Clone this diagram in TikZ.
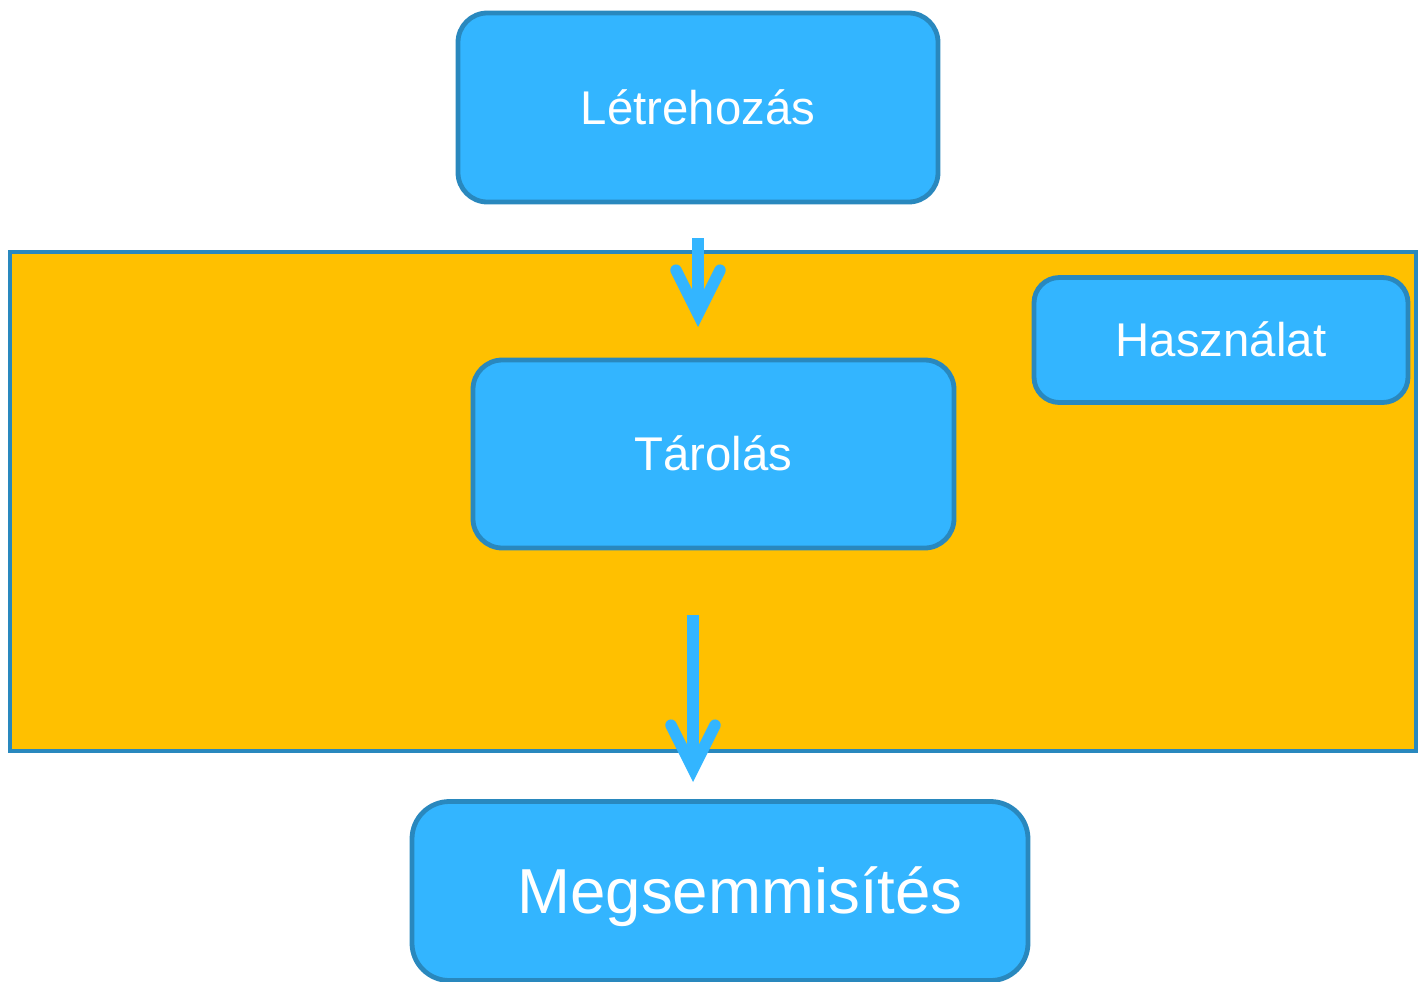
\documentclass[tikz,border=0pt]{standalone}
\usepackage{fontspec}
\setmainfont{Liberation Sans}
\usetikzlibrary{arrows.meta}

\definecolor{boxblue}{RGB}{51,181,255}
\definecolor{lineblue}{RGB}{41,136,190}
\definecolor{zoneorange}{RGB}{255,192,0}

\begin{document}
\begin{tikzpicture}[x=0.75pt,y=0.75pt,yscale=-1,xscale=1,
  box/.style={draw=lineblue,fill=boxblue,line width=3.6pt,rounded corners=22pt,
    text=white,inner sep=0pt,text height=25.4pt,text depth=0pt,
    font=\fontsize{35.5}{40}\selectfont},
  zone/.style={draw=lineblue,fill=zoneorange,line width=3pt,inner sep=0pt},
  flow/.style={draw=boxblue,line width=8.6pt,
    -{Straight Barb[length=33pt,width=33pt,line cap=round,line join=miter]}}]
\useasboundingbox (0,0) rectangle (1418,982);

%Shape: Rectangle (storage zone)
\node (zona) [zone,minimum width=1054.5pt,minimum height=374.25pt] at (713,501.5) {};

%Shape: Rounded Rect
\node (letre) [box,minimum width=360pt,minimum height=141.75pt] at (698,107.5) {Létrehozás};
%Shape: Rounded Rect
\node (tarol) [box,minimum width=360.75pt,minimum height=141pt] at (713.5,454) {Tárolás};
%Shape: Rounded Rect
\node (haszn) [box,rounded corners=19pt,minimum width=280.5pt,minimum height=93.75pt] at (1221,340) {Használat};
%Shape: Rounded Rect
\node (megsem) [box,rounded corners=28pt,minimum width=462pt,minimum height=134.25pt,
  text height=34.2pt,font=\fontsize{47.7}{52}\selectfont] at (720,891) {\hspace*{30pt}Megsemmisítés};

%Straight Lines
\coordinate (a1) at (698,238);
\coordinate (b1) at (698,327);
\draw [flow] (a1) -- (b1);
%Straight Lines
\coordinate (a2) at (693,615);
\coordinate (b2) at (693,782);
\draw [flow] (a2) -- (b2);

\end{tikzpicture}
\end{document}
